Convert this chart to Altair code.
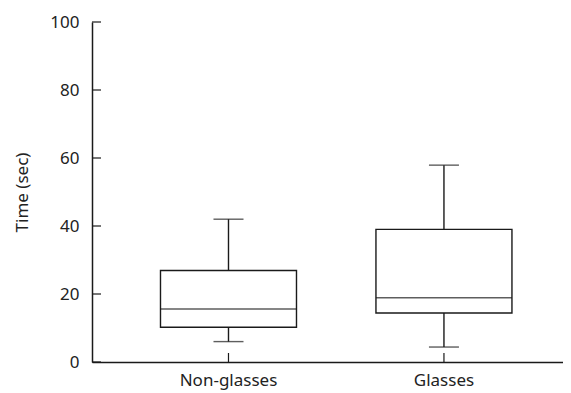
import altair as alt
import pandas as pd

groups = ["Non-glasses", "Glasses"]
whisker_low = [6.0, 4.4]
q1 = [10.2, 14.4]
median = [15.6, 18.9]
q3 = [26.9, 39.0]
whisker_high = [42.0, 57.9]
y_ticks = [0, 20, 40, 60, 80, 100]

df = pd.DataFrame({"group": groups, "lo": whisker_low, "q1": q1, "med": median,
                   "q3": q3, "hi": whisker_high})
tick_df = pd.DataFrame({"v": y_ticks})

W, H = 471, 340
FONT = "Noto Sans"
LINE = "#1a1a1a"

xscale = alt.Scale(type="band", domain=groups, paddingInner=0.5, paddingOuter=0.343, align=0.559)
yscale = alt.Scale(domain=[0, 100], nice=False, zero=True)
yaxis = alt.Axis(title="Time (sec)", values=y_ticks, ticks=False, labelPadding=13,
                 titlePadding=18, grid=False)
xaxis = alt.Axis(title=None, labelAngle=0, ticks=False, labelPadding=10, grid=False)


def X():
    return alt.X("group:N", scale=xscale, axis=xaxis, sort=groups)


def Y(f):
    return alt.Y(f + ":Q", scale=yscale, axis=yaxis)


base = alt.Chart(df)

lower = base.mark_rule(color=LINE, strokeWidth=1.4).encode(x=X(), y=Y("lo"), y2="q1:Q")
upper = base.mark_rule(color=LINE, strokeWidth=1.4).encode(x=X(), y=Y("q3"), y2="hi:Q")
box = base.mark_bar(size=136, fill="white", stroke=LINE, strokeWidth=1.4).encode(
    x=X(), y=Y("q1"), y2="q3:Q")
med = base.mark_tick(size=136, thickness=1.4, color=LINE, orient="horizontal").encode(
    x=X(), y=Y("med"))
cap_lo = base.mark_tick(size=30, thickness=1.4, color=LINE, orient="horizontal").encode(
    x=X(), y=Y("lo"))
cap_hi = base.mark_tick(size=30, thickness=1.4, color=LINE, orient="horizontal").encode(
    x=X(), y=Y("hi"))
xticks = base.mark_rule(color=LINE, strokeWidth=1.2).encode(
    x=X(), y=alt.value(H - 9), y2=alt.value(H))
yticks = alt.Chart(tick_df).mark_rule(color=LINE, strokeWidth=1.2).encode(
    y=Y("v"), x=alt.value(0), x2=alt.value(9))

chart = alt.layer(box, lower, upper, med, cap_lo, cap_hi, xticks, yticks).properties(
    width=W, height=H,
    autosize=alt.AutoSizeParams(type="none"),
    padding={"left": 84, "top": 14, "right": 0, "bottom": 30},
).configure_view(stroke=None).configure_axis(
    domainColor=LINE, domainWidth=1.5, labelColor="#222", labelFont=FONT, labelFontSize=17,
    titleFont=FONT, titleFontSize=17, titleColor="#222", titleFontWeight="normal",
)

chart.save("out.html", embed_options={"renderer": "svg", "actions": False})
